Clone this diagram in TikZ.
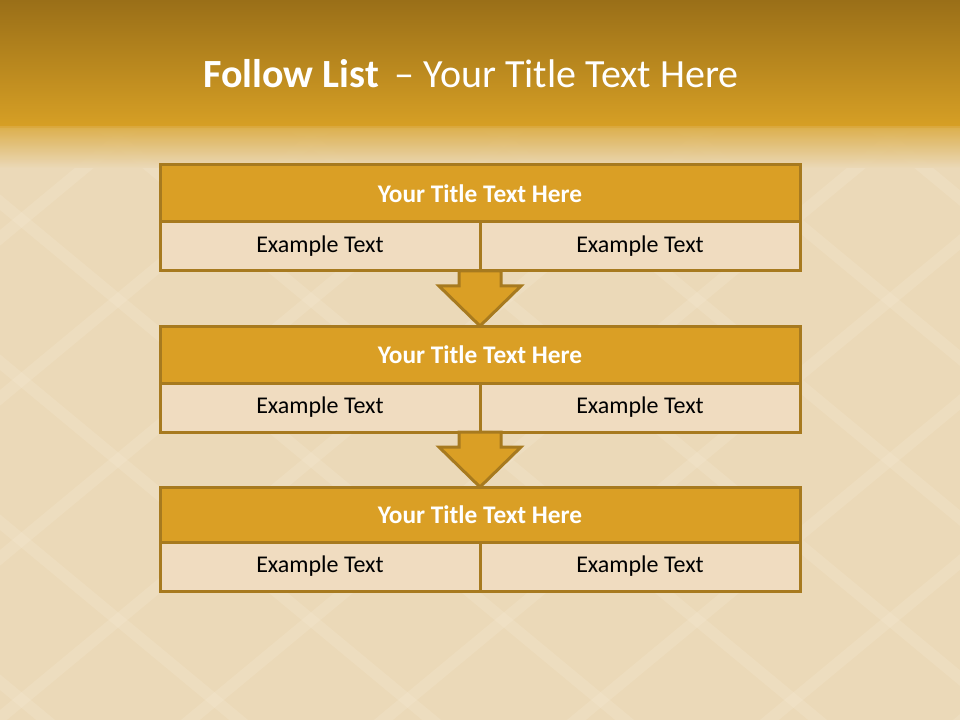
\documentclass[tikz,border=0pt]{standalone}
\usepackage{fontspec}
\setmainfont{Carlito}
\usetikzlibrary{positioning,calc}

\definecolor{hdtop}{HTML}{9A6F18}
\definecolor{hdbot}{HTML}{D7A025}
\definecolor{paper}{HTML}{EBD9B8}
\definecolor{lace}{HTML}{F6EAD4}
\definecolor{gold}{HTML}{DA9F25}
\definecolor{rim}{HTML}{A77A1F}
\definecolor{cream}{HTML}{F0DCC0}

\begin{document}
\begin{tikzpicture}[
    x=0.75pt, y=-0.75pt,
    band/.style={draw=rim, fill=gold, line width=2.25pt, inner sep=0pt, outer sep=0pt,
        minimum width=480pt, minimum height=42.75pt, text=white, font=\fontsize{19}{21}\selectfont\bfseries},
    cell/.style={draw=rim, fill=cream, line width=2.25pt, inner sep=0pt, outer sep=0pt,
        minimum width=240pt, minimum height=36.75pt, text=black, font=\fontsize{18}{20}\selectfont},
    flow/.style={draw=rim, fill=gold, line width=2.25pt, line join=miter}
]
    \useasboundingbox (0,0) rectangle (960,720);

    % Background
    \fill[paper] (0,0) rectangle (960,720);
    \begin{scope}
        \clip (0,0) rectangle (960,720);
        \foreach \k in {-6,...,6} {
            \draw[lace, line width=9pt, opacity=0.25] (118+\k*193-965,460-800) -- (118+\k*193+965,460+800);
            \draw[lace, line width=9pt, opacity=0.25] (118+\k*193-965,460+800) -- (118+\k*193+965,460-800);
        }
    \end{scope}
    \shade[top color=hdtop, bottom color=hdbot] (0,0) rectangle (960,128);
    \shade[top color=hdbot!80!paper, bottom color=paper, opacity=0.9] (0,127) rectangle (960,168);

    % Heading
    \node[text=white, font=\fontsize{30}{36}\selectfont, anchor=base] (heading) at (471,88)
        {\textbf{Follow List} \,– Your Title Text Here};

    % Boxes
    \node[band] (band1) at (480,193.5) {Your Title Text Here};
    \node[cell, below right=0pt and 0pt of band1.south west] (lcell1) {Example Text};
    \node[cell, right=0pt of lcell1] (rcell1) {Example Text};

    \node[band, below=41.25pt of lcell1.south east] (band2) {Your Title Text Here};
    \node[cell, below right=0pt and 0pt of band2.south west] (lcell2) {Example Text};
    \node[cell, right=0pt of lcell2] (rcell2) {Example Text};

    \node[band, below=41.25pt of lcell2.south east, minimum height=41.25pt] (band3) {Your Title Text Here};
    \node[cell, below right=0pt and 0pt of band3.south west] (lcell3) {Example Text};
    \node[cell, right=0pt of lcell3] (rcell3) {Example Text};

    % Arrows
    \draw[flow] ($(lcell1.south east)+(-15.75pt,0)$) |- ($(band2.north)+(-30.75pt,30pt)$)
        -- (band2.north) -- ($(band2.north)+(30.75pt,30pt)$) -| ($(lcell1.south east)+(15.75pt,0)$) -- cycle;
    \draw[flow] ($(lcell2.south east)+(-15.75pt,0)$) |- ($(band3.north)+(-30.75pt,30pt)$)
        -- (band3.north) -- ($(band3.north)+(30.75pt,30pt)$) -| ($(lcell2.south east)+(15.75pt,0)$) -- cycle;
\end{tikzpicture}
\end{document}
